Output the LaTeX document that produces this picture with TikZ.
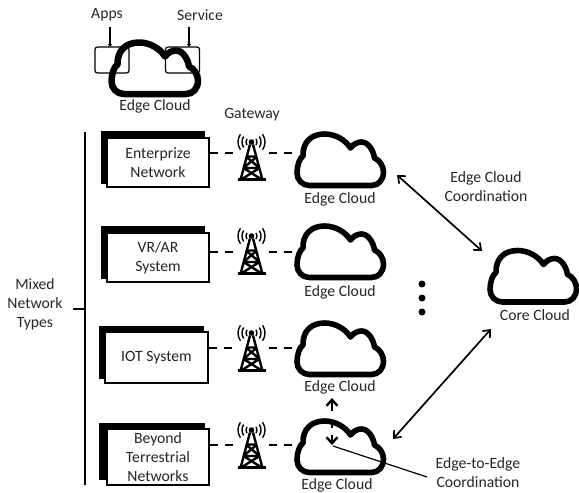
\documentclass[tikz,border=0pt]{standalone}
\usepackage{fontspec}
\setmainfont{Carlito}
\usetikzlibrary{arrows.meta}
\tikzset{
  lbl/.style={inner sep=0pt,align=center,font=\fontsize{15.7}{19}\selectfont,text=black!85},
  anchorpt/.style={inner sep=0pt,minimum size=0pt},
  front/.style={draw=black,line width=2pt,fill=white,inner sep=0pt,align=center,font=\fontsize{15.7}{19}\selectfont,text=black!85},
  backbox/.style={fill=black,inner sep=0pt},
  dashlink/.style={line width=2.2pt,dash pattern=on 8pt off 7pt},
  twoway/.style={line width=1.7pt,{Straight Barb[length=6pt,width=10pt,line width=1.7pt]}-{Straight Barb[length=6pt,width=10pt,line width=1.7pt]}},
  updown/.style={line width=2.4pt,dash pattern=on 10pt off 10pt on 7pt off 7pt on 13pt off 0pt,{Straight Barb[length=6pt,width=11pt,line width=2.4pt]}-{Straight Barb[length=6pt,width=11pt,line width=2.4pt]}},
  lead/.style={line width=1.2pt},
  smallbox/.style={draw,line width=1.2pt,rounded corners=2.5pt,minimum width=34pt,minimum height=26pt,inner sep=0pt},
  cloudspot/.style={inner sep=0pt,minimum width=90pt,minimum height=54pt},
  towerspot/.style={inner sep=0pt,minimum width=34pt,minimum height=47pt},
  pics/cloud/.style={code={
    \draw[line width=#1,line join=round]
      (-37.5,-4) .. controls (-38,-18) and (-29,-26) .. (-16,-26)
      .. controls (-5,-26) and (5,-20) .. (10,-12)
      .. controls (13,-16) and (17,-18) .. (21,-18)
      .. controls (28,-18) and (33,-9) .. (34,-2)
      .. controls (39,0) and (43,6) .. (43,12)
      .. controls (43,20) and (38,25.5) .. (31,25.5)
      -- (-31,25.5)
      .. controls (-38,25.5) and (-43.5,20) .. (-43.5,13)
      .. controls (-43.5,6) and (-41,-2) .. (-37.5,-4) -- cycle;
  }},
  pics/tower/.style={code={
    \fill (0,-15.5) circle (2.8);
    \draw[line width=2.4pt,line join=round]
      (-1.5,-13)--(-11,22.5) (1.5,-13)--(11,22.5)
      (-5.5,-1)--(5.5,-1) (-5.5,-1)--(8,10.5) (5.5,-1)--(-8,10.5) (-8,10.5)--(8,10.5) (-8,10.5)--(11,22.5) (8,10.5)--(-11,22.5);
    \draw[line width=3pt] (-14,22)--(14,22);
    \foreach \r in {5.5,9.5,13.5}{
      \draw[line width=1.4pt] (0,-15.5)++(35:\r) arc (35:-35:\r);
      \draw[line width=1.4pt] (0,-15.5)++(145:\r) arc (145:215:\r);
    }
  }}
}
\begin{document}
\begin{tikzpicture}[x=1pt,y=-1pt]
\useasboundingbox (0,0) rectangle (579,493);
% top legend
\node[smallbox] (appsbox) at (112,60) {};
\node[smallbox] (svcbox) at (182.5,60) {};
\node[lbl] (apps) at (107,15) {Apps};
\node[lbl] (svc) at (200,15) {Service};
\coordinate (appsend) at (110,27);
\coordinate (svcend) at (189,27);
\draw[lead,{Circle[length=3.5pt]}-] (appsbox.north -| appsend) -- (appsend);
\draw[lead,{Circle[length=3.5pt]}-] (svcbox.north -| svcend) -- (svcend);
\pic at (155,68.5) {cloud={6.5pt}};
\node[lbl] at (155,106) {Edge Cloud};
\node[lbl] at (252,115) {Gateway};
% bracket
\node[lbl] (mixed) at (35,304) {Mixed\\Network\\Types};
\coordinate (brtop) at (85,132);
\coordinate (brbot) at (85,485);
\coordinate (brtick) at (73,309);
\draw[line width=2.3pt] (brtop) -- (brbot);
\draw[line width=2.3pt] (brtick) -- (brtick -| brtop);
% boxes
\newcommand{\netbox}[6]{% name, x0, y0, x1, y1 of front; text
  \node[front,minimum width=#4pt-#2pt,minimum height=#5pt-#3pt] (#1box) at ({(#2+#4)/2},{(#3+#5)/2}) {#6};}
\node[backbox,minimum width=104pt,minimum height=53pt] at (153,157.5) {};
\netbox{a}{107}{138}{209}{187}{Enterprize\\Network}
\node[backbox,minimum width=104pt,minimum height=53pt] at (153,252.5) {};
\netbox{b}{107}{233}{209}{282}{VR/AR\\System}
\node[backbox,minimum width=105pt,minimum height=53pt] at (151.5,352.5) {};
\netbox{c}{105}{332}{208}{383}{IOT System}
\node[backbox,minimum width=106pt,minimum height=57pt] at (152,451.5) {};
\netbox{d}{107}{429}{209}{485}{Beyond\\Terrestrial\\Networks}
% towers, clouds, dashed links
\foreach \n/\tyc/\dy/\cy in {a/157.5/153/160,b/251.5/252/252,c/348.5/348/349,d/445.5/445/447}{
  \node[towerspot] (\n tw) at (251.5,\tyc) {};
  \pic at (\n tw.center) {tower};
  \node[cloudspot] (\n cl) at (340.5,\cy) {};
  \pic at (\n cl.center) {cloud={5.6pt}};
  \draw[dashlink] (\n box.east |- 0,\dy) -- (\n tw.west |- 0,\dy);
  \draw[dashlink] (\n tw.east |- 0,\dy) -- (\n cl.west |- 0,\dy);
}
\node[lbl] at (340,199) {Edge Cloud};
\node[lbl] at (340,292) {Edge Cloud};
\node[lbl] at (340,387) {Edge Cloud};
\node[lbl] at (337,485) {Edge Cloud};
% core
\node[cloudspot] (core) at (533.5,276.5) {};
\pic at (core.center) {cloud={5.6pt}};
\node[lbl] at (535,315) {Core Cloud};
\node[lbl] at (486,186.5) {Edge Cloud\\Coordination};
\node[lbl] (e2e) at (478,472.5) {Edge-to-Edge\\Coordination};
% coordination
\coordinate (t1) at (397,175);
\coordinate (t2) at (482,251);
\coordinate (b1) at (491,329);
\coordinate (b2) at (393,439);
\draw[twoway] (t1) -- (t2);
\draw[twoway] (b1) -- (b2);
\foreach \y/\m in {284/p,298/q,312/r}{\node[circle,fill=black,inner sep=0pt,minimum size=7pt] (dot\m) at (422,\y) {};}
% edge to edge
\coordinate (up) at (332,398);
\coordinate (dn) at (332,445);
\coordinate (le) at (333,446);
\coordinate (lf) at (427,477);
\draw[updown] (up) -- (dn);
\draw[lead] (le) -- (lf);
\end{tikzpicture}
\end{document}
